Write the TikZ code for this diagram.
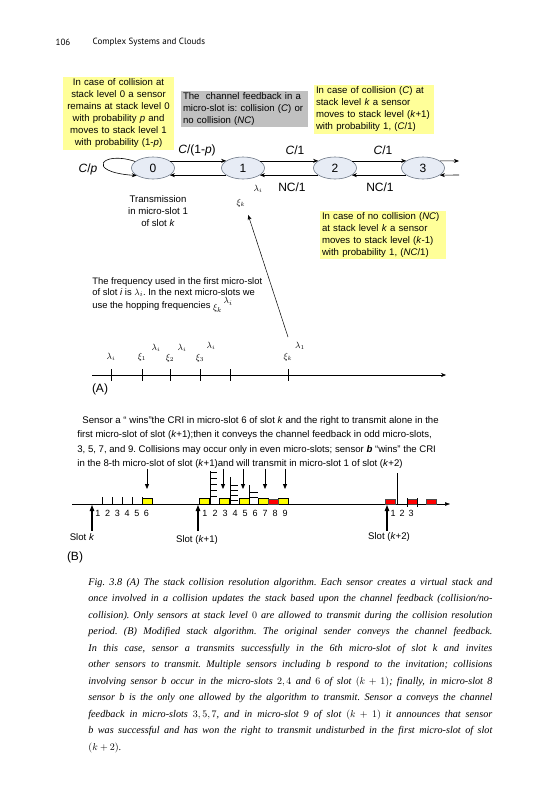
\documentclass[tikz,border=0pt]{standalone}
\usepackage{fontspec}
\setmainfont{Liberation Sans}
\newfontfamily\capfont{Liberation Serif}
\newfontfamily\headfont{PT Sans}
\usepackage{tikz}
\usetikzlibrary{arrows.meta,positioning,calc,shapes.geometric}
\tikzset{every picture/.style={line width=0.75pt}}

\definecolor{noteyellow}{RGB}{255,255,153}
\definecolor{notegray}{RGB}{192,192,192}
\definecolor{levelfill}{RGB}{231,236,245}
\definecolor{leveldraw}{RGB}{110,120,135}
\definecolor{slotyellow}{RGB}{255,255,0}
\definecolor{slotred}{RGB}{255,0,0}

\tikzset{
  txt/.style={font=\fontsize{9.6}{12}\selectfont, inner sep=0pt},
  note/.style={txt, fill=noteyellow, inner sep=2pt},
  level/.style={ellipse, draw=leveldraw, fill=levelfill, line width=0.6pt,
    minimum width=43pt, minimum height=22pt, inner sep=0pt,
    font=\fontsize{12}{14}\selectfont},
  edgelbl/.style={font=\fontsize{12}{14}\selectfont, inner sep=0pt},
  sym/.style={font=\fontsize{9}{10}\selectfont, inner sep=0pt},
  numlbl/.style={font=\fontsize{9}{10}\selectfont, inner sep=0pt},
  flow/.style={->, line width=0.6pt},
  upmark/.style={-{Triangle[length=6pt,width=4.5pt]}, line width=1.1pt},
  downmark/.style={-{Triangle[length=5pt,width=4pt]}, line width=0.8pt},
}

\begin{document}
\frenchspacing
\begin{tikzpicture}[x=1pt, y=-1pt, >={Stealth[length=5pt,width=4pt]}]
    \fill[white] (0,0) rectangle (533,800);
    \useasboundingbox (0,0) rectangle (533,800);

    % 页眉
    \node[font=\headfont\fontsize{9}{11}\selectfont] (pagenum) at (63,42) {106};
    \node[font=\headfont\fontsize{9}{11}\selectfont, anchor=west] (runhead) at (89,42) {Complex Systems and Clouds};

    % (A) 说明框
    \node[note, text width=107pt, align=center] (collnote) at (118.5,113.5) {In case of collision at\\ stack level 0 a sensor\\ remains at stack level 0\\ with probability \textit{p} and\\ moves to stack level 1\\ with probability (1-\textit{p})};
    \node[txt, fill=notegray, inner sep=2pt, text width=123pt, align=left] (fbnote) at (244.5,109) {The\ \ channel feedback in a\\ micro-slot is: collision (\textit{C}) or\\ no collision (\textit{NC})};
    \node[note, text width=116pt, align=left] (upnote) at (374,109.5) {In case of collision (\textit{C}) at\\ stack level \textit{k} a sensor\\ moves to stack level (\textit{k}+1)\\ with probability 1, (\textit{C}/1)};
    \node[note, text width=122pt, align=left] (downnote) at (383,235) {In case of no collision (\textit{NC})\\ at stack level \textit{k} a sensor\\ moves to stack level (\textit{k}-1)\\ with probability 1, (\textit{NC}/1)};

    % 堆栈层级
    \node[level] (lv0) at (153,168) {0};
    \node[level] (lv1) at (243,168) {1};
    \node[level] (lv2) at (335,168) {2};
    \node[level] (lv3) at (423,168) {3};
    \coordinate (out3) at (459,161);
    \coordinate (in3) at (459,175);
    \foreach \a/\b in {lv0/lv1, lv1/lv2, lv2/lv3} {
        \draw[flow] (\a.23) -- (\b.157);
        \draw[flow] (\b.203) -- (\a.-23);
    }
    \draw[flow] (lv3.23) -- (out3);
    \draw[flow] (in3) -- (lv3.-23);
    \draw[flow] (lv0.160) .. controls (102,150) and (84,172) .. (lv0.205);

    % 转移标注
    \node[edgelbl] (c01) at (197,150) {\textit{C}/(1-\textit{p})};
    \node[edgelbl] (c12) at (295,150) {\textit{C}/1};
    \node[edgelbl] (c23) at (383,150) {\textit{C}/1};
    \node[edgelbl] (c00) at (88,169) {\textit{C}/\textit{p}};
    \node[edgelbl] (nc21) at (292,187) {NC/1};
    \node[edgelbl] (nc32) at (380,187) {NC/1};
    \node[sym] (lamA) at (258,189) {$\lambda_i$};
    \node[sym] (xiA) at (241,203) {$\xi_k$};
    \node[txt, align=center] (txnote) at (158,211) {Transmission\\ in micro-slot 1\\ of slot \textit{k}};

    % 跳频说明
    \node[txt, align=left, anchor=north west, font=\fontsize{9.4}{11}\selectfont] (freqnote) at (92,277) {The frequency used in the first micro-slot\\ of slot \textit{i} is $\lambda_i$. In the next micro-slots we\\ use the hopping frequencies \raisebox{-2pt}{$\xi_k$}\,\raisebox{5pt}{$\lambda_i$}};

    % 时间轴 (A)
    \coordinate (ta0) at (92,375);
    \coordinate (ta1) at (446,375);
    \draw[->, line width=0.5pt] (ta0) -- (ta1);
    \foreach \x in {111,142,170,200,230,288} {
        \draw[line width=0.5pt] (\x,369) -- (\x,381);
    }
    \foreach \x/\y/\sm [count=\i] in {111/357/\lambda_i, 142/357/\xi_1, 156/348/\lambda_i, 170/358/\xi_2, 182/348/\lambda_i, 200/358/\xi_3, 211/346/\lambda_i, 288/357/\xi_k, 300/346/\lambda_1} {
        \node[sym] (fa\i) at (\x,\y) {$\sm$};
    }
    \coordinate (kmark) at (288,337);
    \draw[->, line width=0.5pt, shorten >=8pt] (kmark) -- (xiA.south east);
    \node[font=\fontsize{12}{14}\selectfont] (partA) at (100,389) {(A)};

    % (B) 说明文字
    \node[txt, anchor=north west, align=left, font=\fontsize{9.6}{14.5}\selectfont] (bnote) at (77,416) {\hspace*{5pt}Sensor a \textquotedblleft\ wins\textquotedblright the CRI in micro-slot 6 of slot \textit{k} and the right to transmit alone in the\\ first micro-slot of slot (\textit{k}+1);then it conveys the channel feedback in odd micro-slots,\\ 3, 5, 7, and 9. Collisions may occur only in even micro-slots; sensor \textbf{\textit{b}} \textquotedblleft wins\textquotedblright\ the CRI\\ in the 8-th micro-slot of slot (\textit{k}+1)and will transmit in micro-slot 1 of slot (\textit{k}+2)};
    \foreach \x [count=\i] in {147,223,243,265,285} {
        \coordinate (dn\i) at (\x,469);
        \coordinate (dt\i) at (\x,489);
        \draw[downmark] (dn\i) -- (dt\i);
    }

    % 时间轴 (B)
    \coordinate (tb0) at (72,504);
    \coordinate (tb1) at (450,504);
    \draw[-{Triangle[length=5pt,width=3.5pt]}, line width=0.5pt] (tb0) -- (tb1);
    \foreach \x in {102,112,122,132,142} {
        \draw[line width=0.5pt] (\x,497) -- (\x,504);
    }
    \foreach \x in {142,199,219,239,258,278} {
        \filldraw[fill=slotyellow, draw=black, line width=0.5pt] (\x,498) rectangle ++(10,6);
    }
    \foreach \x in {268,385,407,426} {
        \filldraw[fill=slotred, draw=black!70, line width=0.5pt] (\x,499) rectangle ++(10,5);
    }
    \draw[line width=0.5pt] (407,498) -- (407,507);
    \draw[line width=0.5pt] (417,498) -- (417,507);
    \draw[line width=0.8pt] (397,473) -- (397,504);

    % 碰撞堆栈
    \draw[line width=0.9pt] (210,504) -- (210,471);
    \foreach \y in {472,478,484,490,496} {
        \draw[line width=0.9pt] (210,\y) -- ++(7,0);
    }
    \draw[line width=0.9pt] (230,504) -- (230,477);
    \foreach \y in {485,490,495,500} {
        \draw[line width=0.9pt] (230,\y) -- ++(8,0);
    }
    \draw[line width=0.9pt] (249,504) -- (249,485);
    \foreach \y in {492,497} {
        \draw[line width=0.9pt] (249,\y) -- ++(9,0);
    }

    % 微时隙编号
    \foreach \n [count=\i from 0] in {1,...,6} {
        \node[numlbl] (nk\n) at ({98+9.7*\i},513) {\n};
    }
    \foreach \n [count=\i from 0] in {1,...,9} {
        \node[numlbl] (nka\n) at ({205+10*\i},513) {\n};
    }
    \foreach \n [count=\i from 0] in {1,2,3} {
        \node[numlbl] (nkb\n) at ({393+9*\i},513) {\n};
    }

    % 时隙起点
    \foreach \x/\nm in {92/k0, 198/k1, 387/k2} {
        \coordinate (up\nm) at (\x,531);
        \coordinate (hd\nm) at (\x,505);
        \draw[upmark] (up\nm) -- (hd\nm);
    }
    \node[txt] (slotk) at (82,537) {Slot \textit{k}};
    \node[txt] (slotka) at (197,540) {Slot (\textit{k}+1)};
    \node[txt] (slotkb) at (389,537) {Slot (\textit{k}+2)};
    \node[font=\fontsize{12}{14}\selectfont] (partB) at (75,557) {(B)};

    % 图注
    \node[anchor=north west, text width=404pt, align=justify, inner sep=0pt,
      font=\capfont\itshape\fontsize{10.2}{16.5}\selectfont] (caption) at (88,578) {%
      Fig. 3.8 (A) The stack collision resolution algorithm. Each sensor creates a virtual stack and\linebreak
      once involved in a collision updates the stack based upon the channel feedback (collision/no-\linebreak
      collision). Only sensors at stack level $0$ are allowed to transmit during the collision resolution\linebreak
      period. (B) Modified stack algorithm. The original sender conveys the channel feedback.\linebreak
      In this case, sensor a transmits successfully in the 6th micro-slot of slot k and invites\linebreak
      other sensors to transmit. Multiple sensors including b respond to the invitation; collisions\linebreak
      involving sensor b occur in the micro-slots $2, 4$ and $6$ of slot $(k+1)$; finally, in micro-slot 8\linebreak
      sensor b is the only one allowed by the algorithm to transmit. Sensor a conveys the channel\linebreak
      feedback in micro-slots $3, 5, 7$, and in micro-slot 9 of slot $(k+1)$ it announces that sensor\linebreak
      b was successful and has won the right to transmit undisturbed in the first micro-slot of slot\linebreak
      $(k+2)$.};
\end{tikzpicture}
\end{document}
